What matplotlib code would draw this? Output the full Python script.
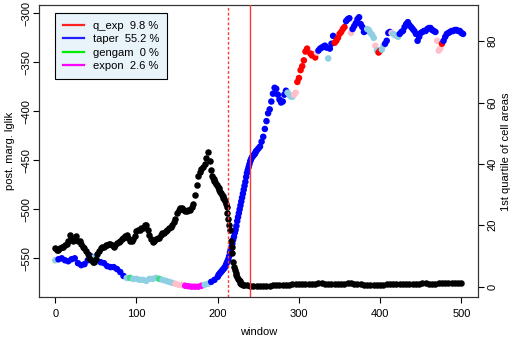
import matplotlib
matplotlib.use("Agg")
import matplotlib.pyplot as plt
from matplotlib.lines import Line2D

plt.rcParams["font.family"] = ["Liberation Sans", "DejaVu Sans"]
plt.rcParams["font.size"] = 8

# posterior marginal log-likelihood per window (left axis), coloured by best model
lglik_win = (list(range(0, 201, 4)) + list(range(201, 249))
             + list(range(250, 311, 2)) + list(range(314, 503, 2)))
lglik_val = [
    -552, -551, -550, -552, -553, -551, -550, -555, -557, -556,
    -552, -548, -549, -553, -554, -555, -558, -559, -559, -561,
    -564, -568, -570, -570, -571, -571, -572, -572, -573, -571,
    -571, -570, -571, -572, -573, -574, -575, -576, -577, -577,
    -578, -578.5, -579, -579, -579, -578, -577, -576, -574, -572, -569,
    # 201..248
    -567, -566, -565, -564, -563, -562, -561, -560, -559, -557,
    -555, -553, -551, -548, -544, -541, -538, -535, -531, -528,
    -524, -521, -517, -512, -508, -504, -500, -496, -492, -488,
    -484, -480, -476, -472, -467, -463, -460, -457, -454, -451,
    -449, -447, -446, -445, -444, -443, -441, -440,
    # 250..310
    -438, -436, -431, -426, -418, -410, -402, -398, -390, -382,
    -376, -377, -383, -388, -391, -390, -383, -379, -381, -383,
    -385, -385, -383, -381, -370, -366, -358, -354, -348, -339, -336,
    # 314..502
    -341, -343, -342, -345, -340, -338, -336, -335, -334, -333,
    -335, -346, -336, -331, -323, -330, -328, -325, -321, -319,
    -316, -314, -308, -306, -305, -320, -316, -313, -310, -306,
    -304, -311, -314, -319, -318, -316, -317, -320, -322, -325,
    -333, -338, -340, -338, -337, -333, -331, -328, -320, -319,
    -320, -321, -322, -323, -324, -321, -319, -318, -314, -311,
    -309, -312, -314, -316, -318, -321, -328, -324, -320, -319,
    -318, -318, -316, -315, -315, -317, -318, -319, -328, -338,
    -336, -331, -328, -324, -321, -320, -319, -318, -318, -317,
    -317, -318, -318, -320, -321,
]
lglik_model = (
    ["lb"] + ["b"] * 11 + ["lb"] * 2 + ["b"] * 8 + ["lb"] + ["g"] + ["lb"] * 8
    + ["g"] + ["lb"] * 4 + ["p"] * 3 + ["m"] * 6 + ["lb"] * 2 + ["b"] * 3
    + ["b"] * 48
    + ["b"] * 18 + ["lb"] * 4 + ["p"] * 2 + ["r"] * 7
    + ["r", "r", "r", "r", "p", "b", "b", "b", "b", "b"]
    + ["b", "lb", "b", "b", "b", "r", "r", "r", "r", "r"]
    + ["r", "r", "b", "b", "b", "p", "b", "b", "b", "b"]
    + ["b", "b", "b", "b", "b", "lb", "lb", "lb", "lb", "lb"]
    + ["p", "lb", "r", "r", "lb", "lb", "b", "b", "b", "b"]
    + ["p", "lb", "lb", "lb", "lb", "b", "b", "b", "b", "b"]
    + ["b"] * 10
    + ["b", "b", "b", "b", "b", "b", "b", "b", "p", "p"]
    + ["p", "r", "b", "b", "b", "b", "b", "b", "b", "b"]
    + ["b"] * 5
)

# 1st quartile of cell areas per window (right axis)
quart_win = list(range(0, 193, 2)) + list(range(193, 233)) + list(range(236, 501, 4))
quart_val = [
    12.5, 12, 12, 12.5, 13, 13, 13.5, 14, 15, 17,
    16, 15, 15.5, 16.5, 15, 15, 14, 13, 12.5, 11.5,
    10.5, 9.5, 8.8, 8, 8, 9, 10.5, 11.5, 12.5, 13,
    13, 13.5, 13.5, 14, 14, 13.5, 13, 13.5, 14.3, 14.5,
    15, 15.5, 16, 16.5, 17, 16, 15, 15, 15.5, 16.5,
    18, 18.5, 18.5, 19, 19, 20, 20, 18.5, 17, 15.5,
    14.5, 15, 15.5, 16, 16, 17, 17.5, 17.5, 18, 18.5,
    19, 19.5, 20, 21, 22, 24, 25, 25.5, 25.5, 25,
    24.5, 24.5, 25, 25, 26, 27, 30, 33, 36, 37.5,
    38.5, 39, 40, 42, 44, 41, 38,
    # 193..232
    36, 35.5, 35, 34.5, 34, 33.5, 33, 32.5, 32, 31.5,
    31, 30.5, 30, 29.5, 29, 28.5, 28, 27, 26, 24,
    22, 20, 18.5, 15, 13, 11, 8, 6.5, 5.5, 4.5,
    3.8, 3.2, 2.6, 2.1, 1.7, 1.3, 1.0, 0.8, 0.6, 0.5,
    # 236..500
    0.4, 0.3, 0.3, 0.3, 0.3, 0.3, 0.3, 0.35, 0.4, 0.4,
    0.5, 0.5, 0.6, 0.7, 0.8, 0.9, 0.9, 1.0, 1.0, 1.0,
    1.0, 1.0, 1.1, 1.1, 1.0, 1.0, 1.0, 1.0, 1.0, 1.0,
    1.0, 1.1, 1.1, 1.0, 0.9, 0.8, 0.7, 0.7, 0.7, 0.7,
    0.7, 0.7, 0.7, 0.8, 0.8, 0.8, 0.8, 0.8, 0.9, 0.9,
    0.9, 0.9, 1.0, 1.0, 1.1, 1.1, 1.0, 1.0, 1.0, 1.1,
    1.2, 1.2, 1.2, 1.2, 1.3, 1.3, 1.2,
]

model_names = ["q_exp", "taper", "gengam", "expon"]
model_share = [9.8, 55.2, 0, 2.6]
legend_colors = ["#ff2020", "#2020ff", "#00ee00", "#ff00ff"]
change_dashed = 213
change_solid = 240

point_colors = {"b": "#0000ff", "lb": "#8ecfe4", "r": "#ff0000",
                "p": "#ffc0cb", "m": "#ff00ff", "g": "#3ddc84"}

fig = plt.figure(figsize=(5.12, 3.37), dpi=100)
ax = fig.add_axes([39 / 512, 39.7 / 337, 438.7 / 512, 292 / 337])

ax.scatter(lglik_win, lglik_val, c=[point_colors[m] for m in lglik_model],
           s=22, linewidths=0, zorder=2)
ax.set_xlim(-20, 520)
ax.set_ylim(-589.8, -291.8)
ax.set_xticks([0, 100, 200, 300, 400, 500])
ax.set_yticks([-550, -500, -450, -400, -350, -300])
ax.set_xlabel("window", labelpad=6)
ax.set_ylabel("post. marg. lglik", labelpad=5)
ax.tick_params(axis="y", length=4.3, width=0.8, pad=1, labelrotation=90)
ax.tick_params(axis="x", length=4.3, width=0.8, pad=4)
for lab in ax.get_yticklabels():
    lab.set_va("center")

ax2 = ax.twinx()
ax2.scatter(quart_win, quart_val, c="black", s=22, linewidths=0, zorder=2)
ax2.set_ylim(-3.45, 91.66)
ax2.set_yticks([0, 20, 40, 60, 80])
ax2.set_ylabel("1st quartile of cell areas", labelpad=2.4)
ax2.tick_params(axis="y", length=4.3, width=0.8, pad=3, labelrotation=90)
for lab in ax2.get_yticklabels():
    lab.set_va("center")

ax2.axvline(change_dashed, color="#ff3838", lw=1, ls=(0, (2, 1.5)), zorder=3)
ax2.axvline(change_solid, color="#ff3838", lw=1, zorder=3)

for a in (ax, ax2):
    for sp in a.spines.values():
        sp.set_linewidth(0.8)
        sp.set_color("#333333")

handles = [Line2D([], [], color=c, lw=1.6) for c in legend_colors]
labels = [f"{n}  {s:g} %" for n, s in zip(model_names, model_share)]
leg = ax2.legend(handles, labels, loc="upper left",
                 bbox_to_anchor=((55 - 39) / 438.7, (297.3 - 13) / 292),
                 frameon=True, fancybox=False, framealpha=1,
                 facecolor="#e8f3fa", edgecolor="black",
                 handlelength=1.9, handletextpad=0.8, labelspacing=0.3,
                 borderpad=0.72, borderaxespad=0, fontsize=8)
leg.get_frame().set_linewidth(0.8)

fig.savefig("out.png", dpi=100)
